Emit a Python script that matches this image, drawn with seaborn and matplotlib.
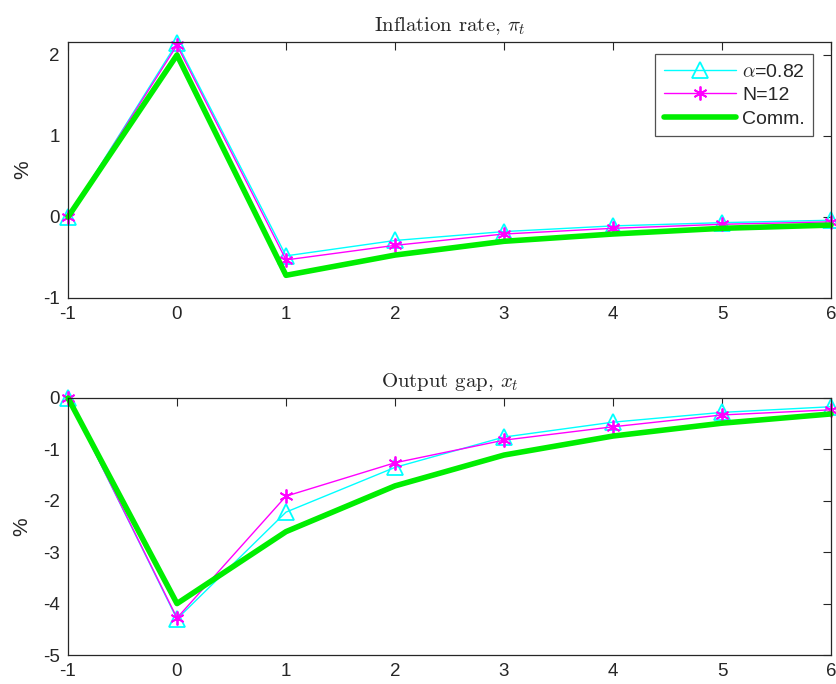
import matplotlib
matplotlib.use("Agg")
import matplotlib.pyplot as plt
import seaborn as sns
import pandas as pd
import numpy as np

periods = [-1, 0, 1, 2, 3, 4, 5, 6]
infl_alpha = [0.0, 2.15, -0.48, -0.29, -0.18, -0.11, -0.07, -0.04]
infl_N = [0.0, 2.12, -0.53, -0.35, -0.21, -0.14, -0.09, -0.06]
infl_comm = [0.0, 2.00, -0.72, -0.47, -0.30, -0.21, -0.14, -0.10]
gap_alpha = [0.0, -4.30, -2.22, -1.35, -0.76, -0.47, -0.28, -0.17]
gap_N = [0.0, -4.28, -1.91, -1.26, -0.82, -0.56, -0.33, -0.23]
gap_comm = [0.0, -4.00, -2.60, -1.71, -1.11, -0.74, -0.49, -0.31]
labels = [r"$\alpha$=0.82", "N=12", "Comm."]
titles = [r"Inflation rate, $\pi_t$", r"Output gap, $x_t$"]

sns.set_theme(style="white")
plt.rcParams['font.family'] = ['Liberation Sans', 'DejaVu Sans']
plt.rcParams['mathtext.fontset'] = 'cm'

fig = plt.figure(figsize=(8.37, 6.84), dpi=100)
W, H = 837, 684
ax1 = fig.add_axes([68 / W, 1 - 298 / H, (831 - 68) / W, (298 - 42) / H])
ax2 = fig.add_axes([68 / W, 1 - 655 / H, (831 - 68) / W, (655 - 398) / H])

def draw(ax, a, n, c, title, ylim, yticks, legend):
    df = pd.DataFrame({"t": periods, "a": a, "n": n, "c": c})
    sns.lineplot(data=df, x="t", y="a", ax=ax, color="cyan", lw=1.0, marker="^",
                 markersize=11, markerfacecolor="none", markeredgecolor="cyan",
                 markeredgewidth=1.3, label=labels[0], clip_on=False)
    sns.lineplot(data=df, x="t", y="n", ax=ax, color="magenta", lw=1.0, marker=(6, 2, 0),
                 markersize=10, markeredgecolor="magenta", markeredgewidth=1.3,
                 label=labels[1], clip_on=False)
    sns.lineplot(data=df, x="t", y="c", ax=ax, color="#00ee00", lw=4.0,
                 label=labels[2], clip_on=False)
    ax.set_xlim(-1, 6)
    ax.set_ylim(*ylim)
    ax.set_xticks(periods)
    ax.set_yticks(yticks)
    ax.set_xticklabels([str(p) for p in periods])
    ax.set_yticklabels([str(v) for v in yticks])
    ax.set_xlabel("")
    ax.set_ylabel("%", fontsize=15, color="#262626", labelpad=8)
    ax.set_title(title, fontsize=15, family="cmr10", pad=8)
    ax.tick_params(direction="in", length=6, width=0.8, top=True, right=True,
                   labelsize=13.5, colors="#262626", pad=6)
    for s in ax.spines.values():
        s.set_color("#262626")
        s.set_linewidth(0.9)
    if legend:
        leg = ax.legend(loc="upper right", bbox_to_anchor=(0.977, 0.952), fontsize=14,
                        frameon=True, fancybox=False, edgecolor="#262626",
                        handlelength=3.7, borderpad=0.45, labelspacing=0.3,
                        handletextpad=0.3, borderaxespad=0.0)
        leg.get_frame().set_linewidth(0.9)
    else:
        ax.get_legend().remove()

draw(ax1, infl_alpha, infl_N, infl_comm, titles[0], (-1, 2.16), [-1, 0, 1, 2], True)
draw(ax2, gap_alpha, gap_N, gap_comm, titles[1], (-5, 0), [-5, -4, -3, -2, -1, 0], False)

fig.savefig("out.png", dpi=100)
